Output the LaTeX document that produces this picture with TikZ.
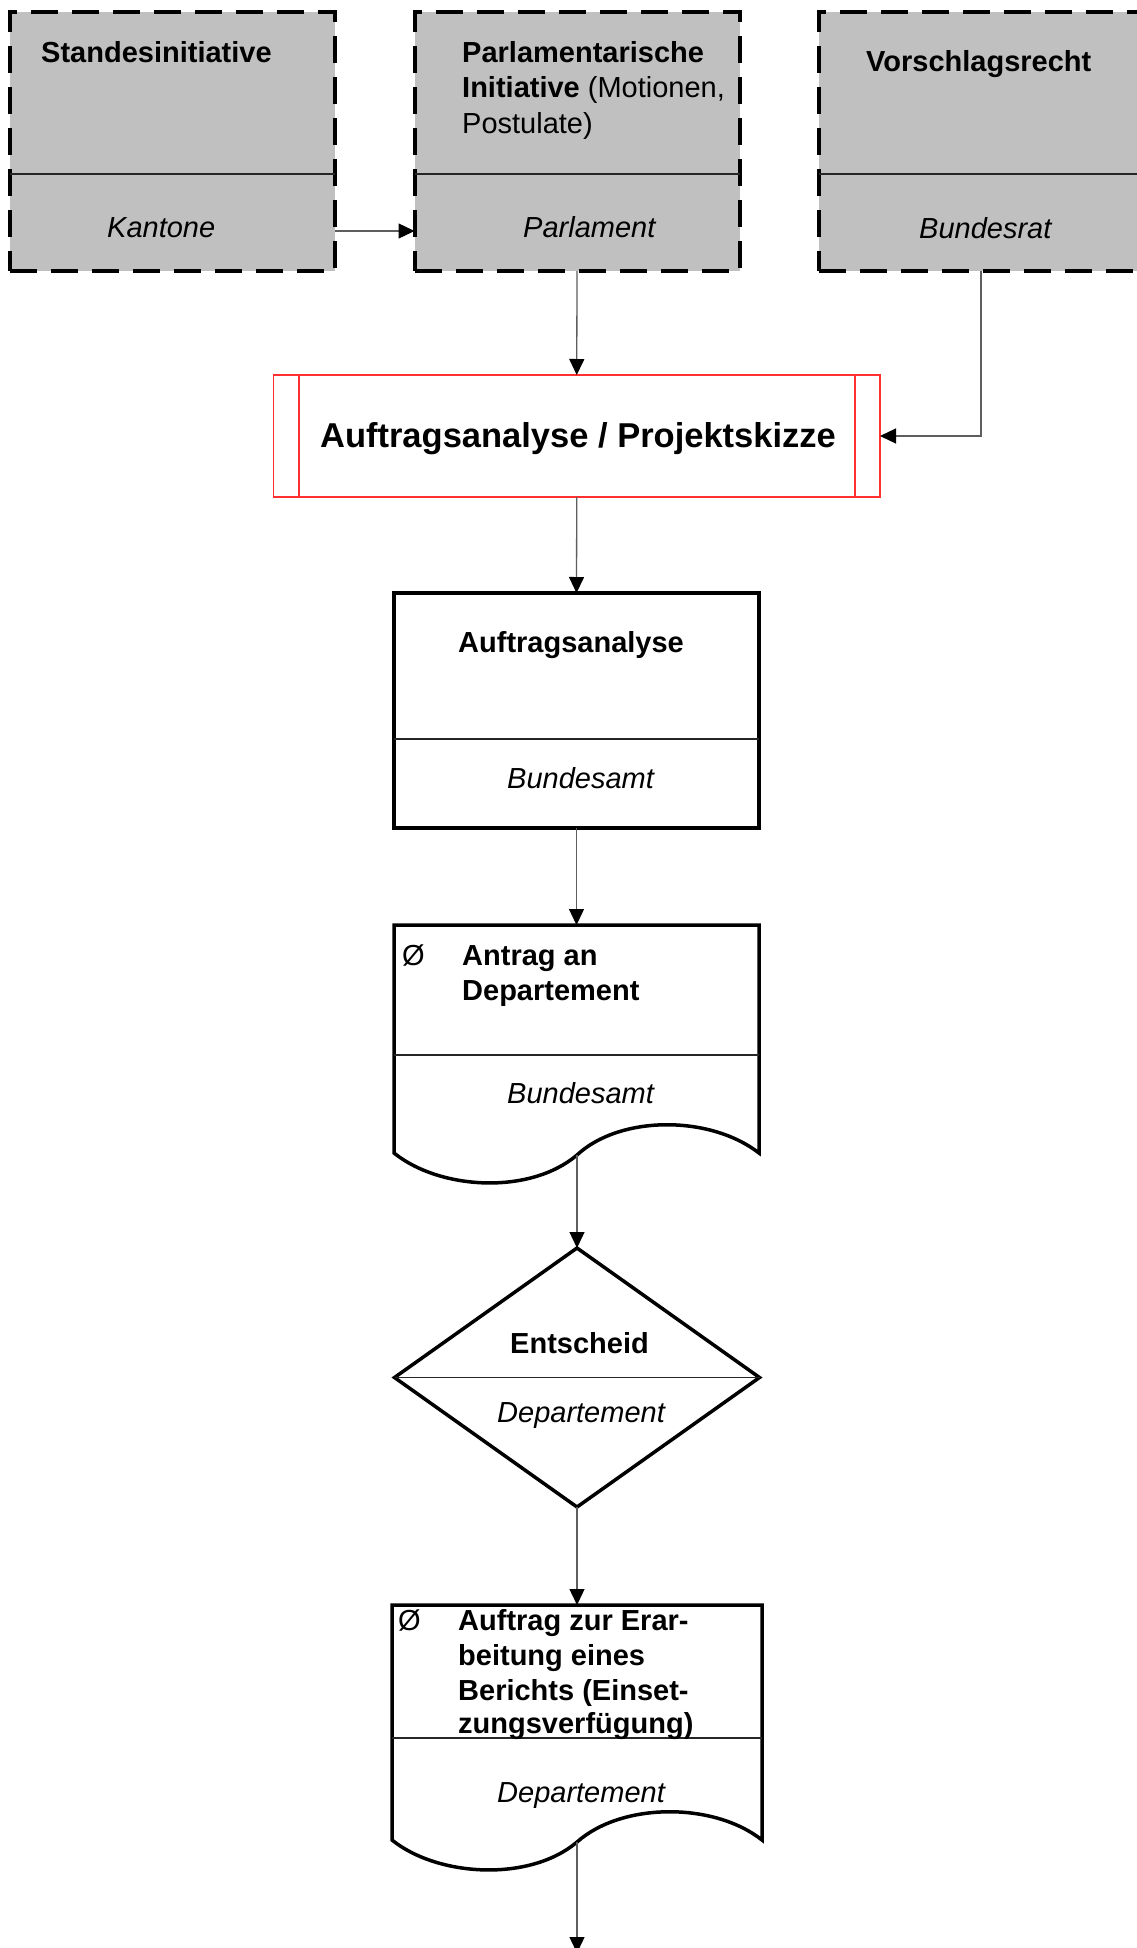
\documentclass[tikz,border=0pt]{standalone}
\usepackage{fontspec}
\setmainfont{Liberation Sans}
\usetikzlibrary{arrows.meta,shapes.geometric}

\definecolor{boxgray}{HTML}{C0C0C0}
\definecolor{linkgray}{HTML}{5E5E5E}
\definecolor{framered}{HTML}{FF3030}

\tikzset{
  txt/.style={inner sep=0pt, anchor=base west, font=\fontsize{29}{35}\selectfont},
  role/.style={txt, font=\fontsize{29}{35}\selectfont\itshape},
  head/.style={txt, font=\fontsize{29}{35}\selectfont\bfseries},
  origin/.style={draw=black, line width=4pt, dash pattern=on 27pt off 14pt,
    fill=boxgray, minimum width=325pt, minimum height=259pt, inner sep=0pt, outer sep=0pt},
  task/.style={draw=black, line width=3.5pt, inner sep=0pt, outer sep=0pt},
  frame/.style={draw=framered, line width=1.5pt, inner sep=0pt, outer sep=0pt},
  shell/.style={inner sep=0pt, outer sep=0pt},
  divider/.style={line width=1.5pt, draw=black!85},
  link/.style={draw=linkgray, line width=1.3pt,
    -{Triangle[length=16pt,width=15pt,color=black]}},
}

\begin{document}
\begin{tikzpicture}[x=1pt, y=-1pt]
\path[use as bounding box, fill=white] (0,0) rectangle (1136,1948);

% --- origins of the request (dashed grey boxes) ---
\node[origin] (kant) at (172.5,141.5) {};
\node[origin] (parl) at (577,141.5) {};
\node[origin] (brat) at (981,141.5) {};
\draw[divider] (kant.west |- 0,174) -- (kant.east |- 0,174);
\draw[divider] (parl.west |- 0,174) -- (parl.east |- 0,174);
\draw[divider] (brat.west |- 0,174) -- (brat.east |- 0,174);

\node[head] (t-stand) at (41,63) {Standesinitiative};
\node[head] (t-parl1) at (462,63) {Parlamentarische};
\node[txt]  (t-parl2) at (462,98) {\textbf{Initiative} (Motionen,};
\node[txt]  (t-parl3) at (462,133) {Postulate)};
\node[head] (t-vor) at (866,72) {Vorschlagsrecht};
\node[role] (r-kant) at (107,237) {Kantone};
\node[role] (r-parl) at (523,237) {Parlament};
\node[role] (r-brat) at (919,238) {Bundesrat};

% --- predefined process (red frame) ---
\node[frame, minimum width=606.5pt, minimum height=122pt] (plan) at (576.75,436) {};
\draw[frame] ([xshift=25.5pt]plan.north west) -- ([xshift=25.5pt]plan.south west);
\draw[frame] ([xshift=-25pt]plan.north east) -- ([xshift=-25pt]plan.south east);
\node[inner sep=0pt, anchor=base, font=\fontsize{34.5}{40}\selectfont\bfseries]
  (t-plan) at (578,447) {Auftragsanalyse / Projektskizze};

% --- task box ---
\node[task, minimum width=365pt, minimum height=235pt] (anal) at (576.5,710.5) {};
\draw[divider] (anal.west |- 0,739) -- (anal.east |- 0,739);
\node[head] (t-anal) at (458,652) {Auftragsanalyse};
\node[role] (r-anal) at (507,788) {Bundesamt};

% --- document: Antrag ---
\node[shell, minimum width=365pt, minimum height=228pt] (antrag) at (576.5,1039) {};
\draw[task, line join=miter] (antrag.south west)
  .. controls (440,1190) and (530,1195) .. (577,1155) coordinate (antragwave)
  .. controls (620,1115) and (710,1115) .. (antrag.south east)
  -- (antrag.north east) -- (antrag.north west) -- cycle;
\draw[divider] (antrag.west |- 0,1055) -- (antrag.east |- 0,1055);
\node[txt]  (bul1) at (402,965) {Ø};
\node[head] (t-antr1) at (462,965) {Antrag an};
\node[head] (t-antr2) at (462,1000) {Departement};
\node[role] (r-antr) at (507,1103) {Bundesamt};

% --- decision ---
\node[task, diamond, minimum width=365pt, minimum height=259pt] (dec) at (577,1377.5) {};
\draw[divider] (dec.west) -- (dec.east);
\node[head] (t-dec) at (510,1353) {Entscheid};
\node[role] (r-dec) at (497,1422) {Departement};

% --- document: Auftrag ---
\node[shell, minimum width=370pt, minimum height=235pt] (auftrag) at (577,1722.5) {};
\draw[task, line join=miter] (auftrag.south west)
  .. controls (438,1877) and (530,1882) .. (577,1842) coordinate (auftragwave)
  .. controls (622,1802) and (714,1802) .. (auftrag.south east)
  -- (auftrag.north east) -- (auftrag.north west) -- cycle;
\draw[divider] (auftrag.west |- 0,1738) -- (auftrag.east |- 0,1738);
\node[txt]  (bul2) at (398,1630) {Ø};
\node[head] (t-auf1) at (458,1630) {Auftrag zur Erar-};
\node[head] (t-auf2) at (458,1665) {beitung eines};
\node[head] (t-auf3) at (458,1700) {Berichts (Einset-};
\node[head] (t-auf4) at (458,1733) {zungsverfügung)};
\node[role] (r-auf) at (497,1802) {Departement};

% --- connectors ---
\coordinate (exit) at (577,1953);
\draw[link] (kant.east |- 0,231) -- (parl.west |- 0,231);
\draw[link] (parl.south) -- (plan.north);
\draw[link] (brat.south) |- (plan.east);
\draw[link] (plan.south) -- (anal.north);
\draw[link] (anal.south) -- (antrag.north);
\draw[link] (antragwave) -- (dec.north);
\draw[link] (dec.south) -- (auftrag.north);
\draw[link] (auftragwave) -- (exit);
\end{tikzpicture}
\end{document}
